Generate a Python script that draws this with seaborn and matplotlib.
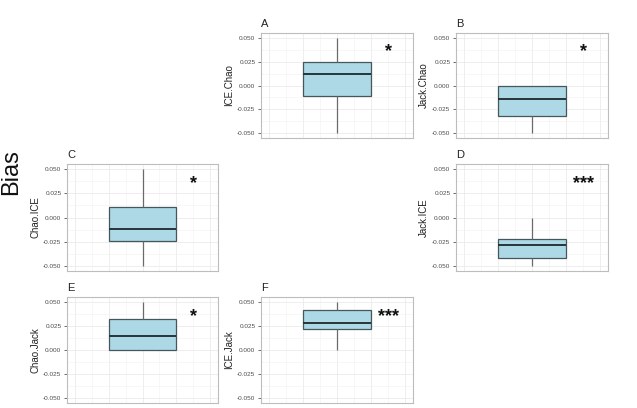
import numpy as np
import matplotlib
matplotlib.use("Agg")
import matplotlib.pyplot as plt
import seaborn as sns
from matplotlib.ticker import FixedLocator, FuncFormatter

sns.set_style("white")
plt.rcParams['font.family'] = ['Liberation Sans', 'DejaVu Sans']

# five-number summaries: min, q1, median, q3, max
panel_ids = ["A", "B", "C", "D", "E", "F"]
panel_labels = ["ICE.Chao", "Jack.Chao", "Chao.ICE", "Jack.ICE", "Chao.Jack", "ICE.Jack"]
bias_A = [-0.050, -0.0105, 0.0125, 0.0245, 0.050]
bias_B = [-0.050, -0.0318, -0.0138, 0.000, 0.000]
bias_C = [-0.050, -0.0243, -0.0122, 0.0105, 0.050]
bias_D = [-0.050, -0.0420, -0.0278, -0.0218, 0.000]
bias_E = [0.000, 0.000, 0.0145, 0.0318, 0.050]
bias_F = [0.000, 0.0216, 0.0284, 0.0418, 0.050]
signif = ["*", "*", "*", "***", "*", "***"]
all_bias = [bias_A, bias_B, bias_C, bias_D, bias_E, bias_F]

W, H = 637, 408
fig = plt.figure(figsize=(W / 100, H / 100), dpi=100)

# panel rectangles in pixels: left, top, right, bottom
cols = [(67, 218), (261, 413), (456, 608)]
rows = [(33, 138), (164, 271), (297, 403)]
grid_pos = [(0, 1), (0, 2), (1, 0), (1, 2), (2, 0), (2, 1)]

fmt = FuncFormatter(lambda v, p: f"{v:.3f}".replace("\u2212", "-"))

for pid, lab, vals, sig, (r, c) in zip(panel_ids, panel_labels, all_bias, signif, grid_pos):
    x0, x1 = cols[c]
    y0, y1 = rows[r]
    ax = fig.add_axes([x0 / W, 1 - y1 / H, (x1 - x0) / W, (y1 - y0) / H])
    sns.boxplot(y=vals, ax=ax, width=0.4, whis=(0, 100), color="#add8e6",
                saturation=1, linecolor="#46575c", linewidth=0.9,
                medianprops=dict(color="#26353a", linewidth=1.4),
                whiskerprops=dict(color="#6a6a6a", linewidth=0.9),
                capprops=dict(linewidth=0))
    ax.set_xlim(-0.447, 0.447)
    ax.set_ylim(-0.055, 0.055)
    ax.xaxis.set_major_locator(FixedLocator([-0.4, -0.2, 0, 0.2, 0.4]))
    ax.xaxis.set_minor_locator(FixedLocator([-0.3, -0.1, 0.1, 0.3]))
    ax.yaxis.set_major_locator(FixedLocator([-0.05, -0.025, 0, 0.025, 0.05]))
    ax.yaxis.set_minor_locator(FixedLocator([-0.0375, -0.0125, 0.0125, 0.0375]))
    ax.yaxis.set_major_formatter(fmt)
    ax.grid(True, which="major", color="#ebebeb", linewidth=0.6)
    ax.grid(True, which="minor", color="#f2f2f2", linewidth=0.4)
    ax.set_axisbelow(True)
    ax.tick_params(axis="x", which="both", bottom=False, labelbottom=False)
    ax.tick_params(axis="y", which="major", left=True, length=2.5, width=0.6,
                   color="#555555", labelsize=4.6, labelcolor="#4d4d4d", pad=1.5)
    ax.tick_params(axis="y", which="minor", left=False)
    for sp in ax.spines.values():
        sp.set_color("#bdbdbd")
        sp.set_linewidth(0.8)
    ax.set_xlabel("")
    ax.set_ylabel(lab, fontsize=7, color="#222222", labelpad=2)
    ax.set_title(pid, loc="left", fontsize=8, color="#222222", pad=4)
    ax.text(0.3, 0.035, sig, ha="center", va="center", fontsize=13,
            fontweight="bold", color="#111111")

fig.text(11 / W, 1 - 172 / H, "Bias", rotation=90, ha="center", va="center",
         fontsize=17, color="#111111")

fig.savefig("out.png", dpi=100)
